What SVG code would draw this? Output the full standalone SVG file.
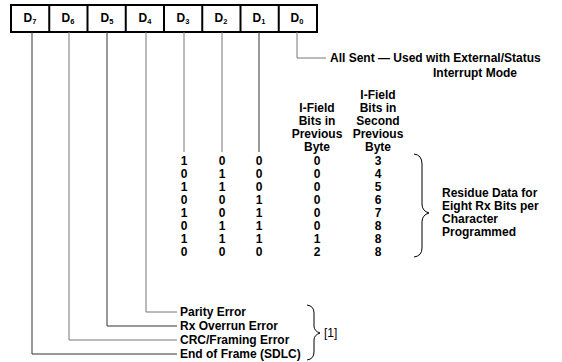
<svg xmlns="http://www.w3.org/2000/svg" width="562" height="362" viewBox="0 0 562 362">
<style>
.box{fill:#fff;stroke:#000;stroke-width:2}
.lbl{font-family:"Liberation Sans",Arial,sans-serif;font-weight:bold;font-size:12px;fill:#000}
.sub{font-size:7.5px}
.t{font-family:"Liberation Sans",Arial,sans-serif;font-weight:bold;font-size:12px;fill:#000}
.n{font-weight:normal}
.m{text-anchor:middle}
.ln{fill:none;stroke:#333;stroke-width:1}
.fl{fill:none;stroke:#777;stroke-width:1}
.br{fill:none;stroke:#000;stroke-width:1}
.dv{stroke:#000;stroke-width:2}
</style>
<rect width="562" height="362" fill="#fff"/>
<g id="register">
  <rect class="box" x="11" y="5" width="306" height="27"/>
  <line class="dv" x1="49.25" y1="5" x2="49.25" y2="32"/>
  <line class="dv" x1="87.5" y1="5" x2="87.5" y2="32"/>
  <line class="dv" x1="125.75" y1="5" x2="125.75" y2="32"/>
  <line class="dv" x1="164" y1="5" x2="164" y2="32"/>
  <line class="dv" x1="202.25" y1="5" x2="202.25" y2="32"/>
  <line class="dv" x1="240.5" y1="5" x2="240.5" y2="32"/>
  <line class="dv" x1="278.75" y1="5" x2="278.75" y2="32"/>
</g>
<g id="d7"><text class="lbl m" x="30" y="22">D<tspan class="sub" dy="2">7</tspan></text></g>
<g id="d6"><text class="lbl m" x="68" y="22">D<tspan class="sub" dy="2">6</tspan></text></g>
<g id="d5"><text class="lbl m" x="107" y="22">D<tspan class="sub" dy="2">5</tspan></text></g>
<g id="d4"><text class="lbl m" x="145" y="22">D<tspan class="sub" dy="2">4</tspan></text></g>
<g id="d3"><text class="lbl m" x="183" y="22">D<tspan class="sub" dy="2">3</tspan></text></g>
<g id="d2"><text class="lbl m" x="221" y="22">D<tspan class="sub" dy="2">2</tspan></text></g>
<g id="d1"><text class="lbl m" x="259" y="22">D<tspan class="sub" dy="2">1</tspan></text></g>
<g id="d0"><text class="lbl m" x="297" y="22">D<tspan class="sub" dy="2">0</tspan></text></g>

<g id="connectors">
  <path class="ln" d="M32 32 V354 H177"/>
  <path class="fl" d="M69 32 V340 H177"/>
  <path class="ln" d="M107 32 V326 H177"/>
  <path class="fl" d="M146 32 V312 H177"/>
  <path class="fl" d="M184 32 V152"/>
  <path class="fl" d="M222 32 V152"/>
  <path class="ln" d="M259 32 V152"/>
  <path class="fl" d="M297 32 V58 H326"/>
</g>

<g id="all-sent">
  <text class="t" x="330" y="62">All Sent — Used with External/Status</text>
  <text class="t" x="433" y="77">Interrupt Mode</text>
</g>

<g id="headers">
  <text class="t m" x="317" y="112">I-Field</text>
  <text class="t m" x="317" y="125">Bits in</text>
  <text class="t m" x="317" y="138">Previous</text>
  <text class="t m" x="317" y="151">Byte</text>
  <text class="t m" x="378" y="99">I-Field</text>
  <text class="t m" x="378" y="112">Bits in</text>
  <text class="t m" x="378" y="125">Second</text>
  <text class="t m" x="378" y="138">Previous</text>
  <text class="t m" x="378" y="151">Byte</text>
</g>

<g id="table">
  <text class="t m" x="184" y="165">1</text><text class="t m" x="222" y="165">0</text><text class="t m" x="259" y="165">0</text><text class="t m" x="317" y="165">0</text><text class="t m" x="378" y="165">3</text>
  <text class="t m" x="184" y="178">0</text><text class="t m" x="222" y="178">1</text><text class="t m" x="259" y="178">0</text><text class="t m" x="317" y="178">0</text><text class="t m" x="378" y="178">4</text>
  <text class="t m" x="184" y="191">1</text><text class="t m" x="222" y="191">1</text><text class="t m" x="259" y="191">0</text><text class="t m" x="317" y="191">0</text><text class="t m" x="378" y="191">5</text>
  <text class="t m" x="184" y="204">0</text><text class="t m" x="222" y="204">0</text><text class="t m" x="259" y="204">1</text><text class="t m" x="317" y="204">0</text><text class="t m" x="378" y="204">6</text>
  <text class="t m" x="184" y="217">1</text><text class="t m" x="222" y="217">0</text><text class="t m" x="259" y="217">1</text><text class="t m" x="317" y="217">0</text><text class="t m" x="378" y="217">7</text>
  <text class="t m" x="184" y="230">0</text><text class="t m" x="222" y="230">1</text><text class="t m" x="259" y="230">1</text><text class="t m" x="317" y="230">0</text><text class="t m" x="378" y="230">8</text>
  <text class="t m" x="184" y="243">1</text><text class="t m" x="222" y="243">1</text><text class="t m" x="259" y="243">1</text><text class="t m" x="317" y="243">1</text><text class="t m" x="378" y="243">8</text>
  <text class="t m" x="184" y="256">0</text><text class="t m" x="222" y="256">0</text><text class="t m" x="259" y="256">0</text><text class="t m" x="317" y="256">2</text><text class="t m" x="378" y="256">8</text>
</g>

<g id="residue-brace">
  <path class="br" d="M414 154 Q422 155 422 164 V204 Q422 211 429 213 Q422 215 422 222 V248 Q422 256 414 257"/>
</g>
<g id="residue-label">
  <text class="t" x="442" y="197">Residue Data for</text>
  <text class="t" x="442" y="210">Eight Rx Bits per</text>
  <text class="t" x="442" y="223">Character</text>
  <text class="t" x="442" y="236">Programmed</text>
</g>

<g id="status-labels">
  <text class="t" x="180" y="316">Parity Error</text>
  <text class="t" x="180" y="330">Rx Overrun Error</text>
  <text class="t" x="180" y="344">CRC/Framing Error</text>
  <text class="t" x="180" y="358">End of Frame (SDLC)</text>
</g>
<g id="note-brace">
  <path class="br" d="M307 305 Q314 306 314 313 V326 Q314 331 320 333 Q314 335 314 340 V352 Q314 359 307 360"/>
  <text class="t n" x="324" y="337">[1]</text>
</g>
</svg>
